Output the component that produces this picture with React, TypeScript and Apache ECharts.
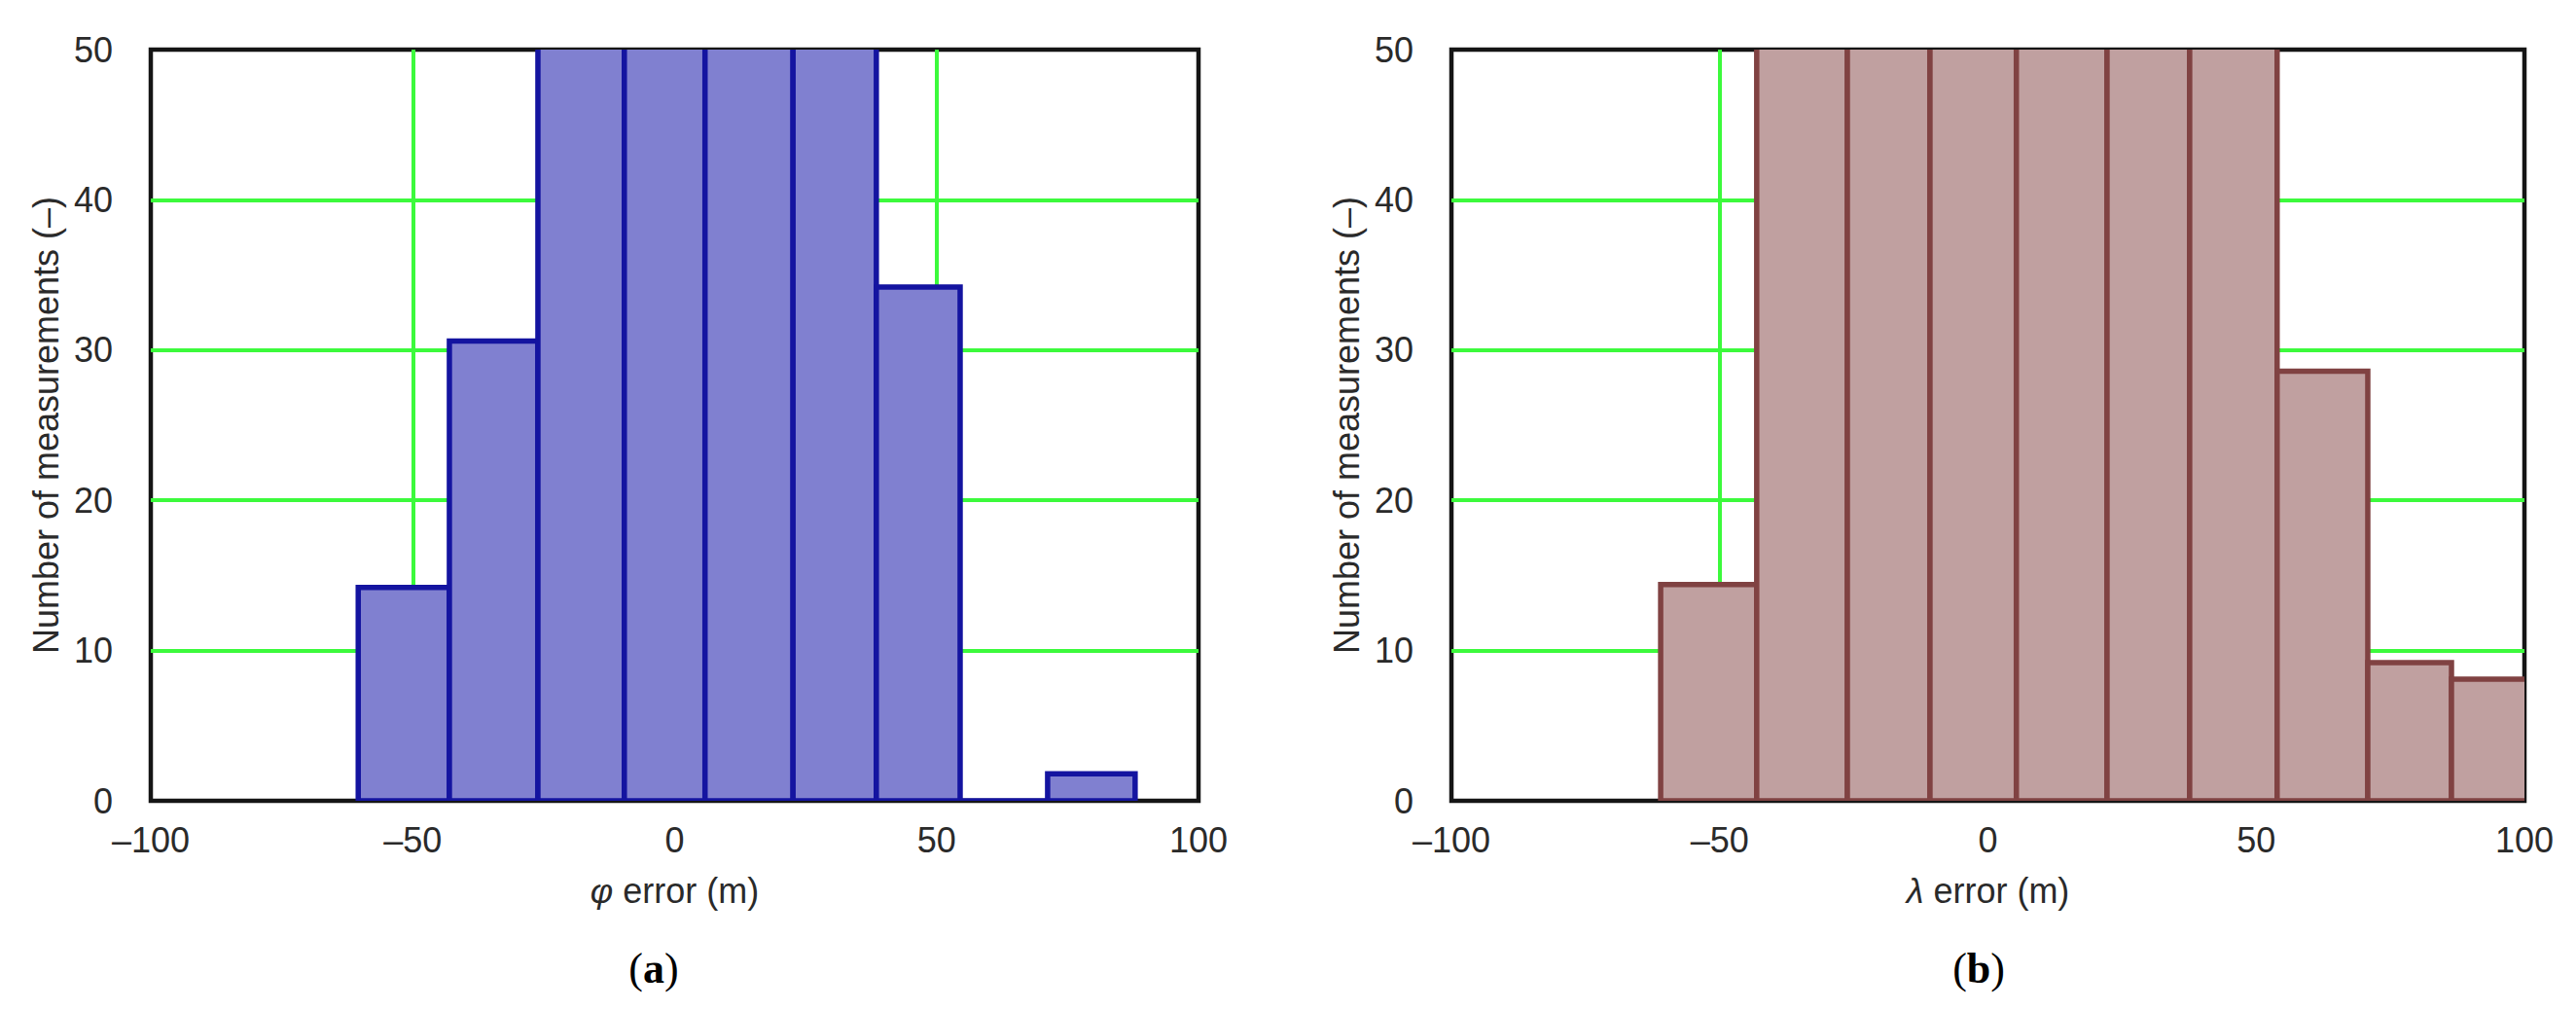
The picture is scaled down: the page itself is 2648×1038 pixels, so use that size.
import React, { useEffect, useRef } from "react";
import * as echarts from "echarts";

// Panel (a): φ error histogram — bin edges (m) and counts
const phiEdges = [-60.4, -43.0, -26.1, -9.6, 5.8, 22.6, 38.5, 54.5, 71.2, 87.9];
const phiCounts = [14.2, 30.6, 62, 78, 74, 58, 34.2, 0, 1.8];

// Panel (b): λ error histogram — bin edges (m) and counts
const lambdaEdges = [-61.0, -43.1, -26.2, -10.8, 5.3, 22.2, 37.6, 53.9, 70.8, 86.4, 102.8];
const lambdaCounts = [14.4, 55, 68, 80, 77, 66, 57, 28.6, 9.2, 8.1];

const xTicks = { min: -100, max: 100, interval: 50 };
const yTicks = { min: 0, max: 50, interval: 10 };

const yTitle = "Number of measurements (–)";
const xTitleA = { sym: "φ", rest: " error (m)" };
const xTitleB = { sym: "λ", rest: " error (m)" };
const captions = ["a", "b"];

const FONT = "Liberation Sans";
const TXT = "#2a2a2a";
const GREEN = "#3cfa3c";

function toBins(edges: number[], counts: number[]) {
  return counts.map((c, i) => [edges[i], edges[i + 1], c]);
}

function histSeries(idx: number, data: number[][], fill: string, stroke: string) {
  return {
    type: "custom",
    xAxisIndex: idx,
    yAxisIndex: idx,
    clip: true,
    z: 5,
    encode: { x: [0, 1], y: 2 },
    data,
    renderItem: (params: any, api: any) => {
      const x0 = api.value(0);
      const x1 = api.value(1);
      const v = api.value(2);
      const p0 = api.coord([x0, 0]);
      const p1 = api.coord([x1, v]);
      return {
        type: "rect",
        shape: {
          x: p0[0],
          y: p1[1],
          width: p1[0] - p0[0],
          height: p0[1] - p1[1],
        },
        style: { fill, stroke, lineWidth: 5.5 },
      };
    },
  };
}

const fmtX = (v: number) => (v < 0 ? "–" + Math.abs(v) : String(v));

function xAxis(idx: number, t: { sym: string; rest: string }) {
  return {
    type: "value",
    gridIndex: idx,
    ...xTicks,
    axisLine: { show: false },
    axisTick: { show: false },
    axisLabel: { margin: 22, fontSize: 36, fontFamily: FONT, color: TXT, formatter: fmtX },
    splitLine: {
      show: true,
      showMinLine: false,
      showMaxLine: false,
      lineStyle: { color: GREEN, width: 4 },
    },
    name: "{i|" + t.sym + "}" + t.rest,
    nameLocation: "middle",
    nameGap: 74,
    nameTextStyle: {
      fontSize: 36,
      fontFamily: FONT,
      color: TXT,
      rich: { i: { fontStyle: "italic", fontSize: 36, fontFamily: FONT, color: TXT } },
    },
  };
}

function yAxis(idx: number) {
  return {
    type: "value",
    gridIndex: idx,
    ...yTicks,
    axisLine: { show: false },
    axisTick: { show: false },
    axisLabel: { margin: 39, fontSize: 36, fontFamily: FONT, color: TXT },
    splitLine: {
      show: true,
      showMinLine: false,
      showMaxLine: false,
      lineStyle: { color: GREEN, width: 4 },
    },
    name: yTitle,
    nameLocation: "middle",
    nameGap: 90,
    nameTextStyle: { fontSize: 36, fontFamily: FONT, color: TXT },
  };
}

export default function App() {
  const ref = useRef<HTMLDivElement>(null);
  useEffect(() => {
    document.body.style.margin = "0";
    const chart = echarts.init(ref.current!, null, { renderer: "svg" });
    const gridBase = { top: 51, height: 772, show: true, borderColor: "#151515", borderWidth: 4.5, backgroundColor: "transparent" };
    chart.setOption({
      animation: false,
      backgroundColor: "#ffffff",
      grid: [
        { ...gridBase, left: 155, width: 1077 },
        { ...gridBase, left: 1492, width: 1103 },
      ],
      xAxis: [xAxis(0, xTitleA), xAxis(1, xTitleB)],
      yAxis: [yAxis(0), yAxis(1)],
      series: [
        histSeries(0, toBins(phiEdges, phiCounts), "#8080d0", "#1414a0"),
        histSeries(1, toBins(lambdaEdges, lambdaCounts), "#c0a0a0", "#804242"),
      ],
      graphic: captions.map((c, i) => ({
        type: "text",
        x: i === 0 ? 672 : 2034,
        y: 995,
        style: {
          text: "({b|" + c + "})",
          fontFamily: "Liberation Serif",
          fontSize: 44,
          fill: "#000",
          align: "center",
          verticalAlign: "middle",
          rich: { b: { fontWeight: "bold", fontFamily: "Liberation Serif", fontSize: 44, fill: "#000" } },
        },
      })),
    });
    return () => chart.dispose();
  }, []);
  return (
    <div
      ref={ref}
      style={{ position: "fixed", left: 0, top: 0, width: 2648, height: 1038 }}
    />
  );
}
